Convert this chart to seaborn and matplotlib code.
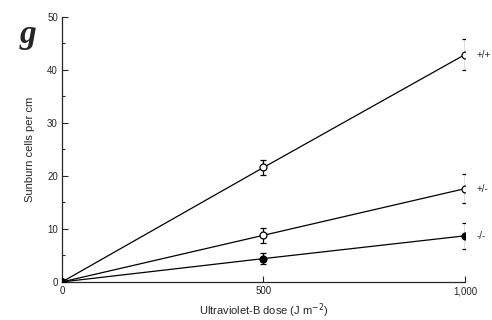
import pandas as pd
from matplotlib import pyplot as plt
import seaborn as sns
import numpy as np

dose = [0, 500, 1000]
genotypes = ['+/+', '+/-', '-/-']
wt = [0, 21.6, 42.9]
wt_err = [0, 1.5, 3.0]
het = [0, 8.8, 17.6]
het_err = [0, 1.4, 2.7]
ko = [0, 4.4, 8.7]
ko_err = [0, 1.1, 2.5]

sns.set_style("ticks")
plt.rcParams['font.family'] = ['Liberation Sans', 'DejaVu Sans']

fig = plt.figure(figsize=(4.92, 3.2), dpi=100)
ax = fig.add_axes([0.126, 0.119, 0.819, 0.828])

series = [(wt, wt_err, 'white'), (het, het_err, 'white'), (ko, ko_err, 'black')]
for (vals, err, face), name in zip(series, genotypes):
    ax.errorbar(dose, vals, yerr=err, fmt='none', ecolor='black', elinewidth=0.9, capsize=2.5, capthick=0.9, zorder=2)
    sns.lineplot(x=dose, y=vals, ax=ax, color='black', linewidth=0.9, marker='o', markersize=5,
                 markerfacecolor=face, markeredgecolor='black', markeredgewidth=0.9, zorder=3)
    ax.text(1028, vals[-1], name, fontsize=7, va='center', ha='left', clip_on=False)

ax.set_xlim(0, 1000)
ax.set_ylim(0, 50)
ax.set_xticks([0, 500, 1000], labels=['0', '500', '1,000'])
ax.set_yticks([0, 10, 20, 30, 40, 50])
ax.set_yticks(np.arange(5, 50, 10), minor=True)
ax.tick_params(axis='both', direction='in', labelsize=7, width=0.8, length=4, pad=3)
ax.tick_params(axis='y', which='minor', direction='in', width=0.8, length=2.5)
sns.despine(ax=ax)
for s in ['left', 'bottom']:
    ax.spines[s].set_linewidth(0.9)

ax.set_xlabel('Ultraviolet-B dose (J m$^{-2}$)', fontsize=8, labelpad=4)
ax.set_ylabel('Sunburn cells per cm', fontsize=8, labelpad=9)

fig.text(0.04, 0.865, 'g', fontsize=24, fontweight='bold', fontstyle='italic', family='Liberation Serif')

fig.savefig('out.png', dpi=100)
